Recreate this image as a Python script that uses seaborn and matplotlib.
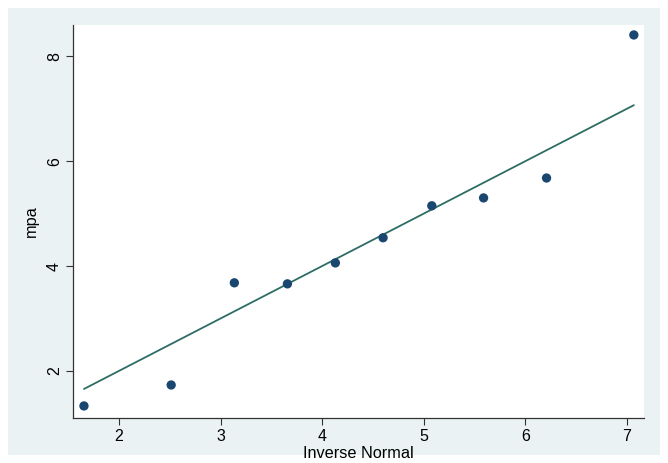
import matplotlib
matplotlib.use('Agg')
import matplotlib.pyplot as plt
import seaborn as sns
import pandas as pd
from matplotlib.patches import Rectangle

inv_normal = [1.654, 2.513, 3.135, 3.658, 4.13, 4.60, 5.08, 5.59, 6.21, 7.07]
mpa = [1.33, 1.73, 3.68, 3.66, 4.06, 4.54, 5.15, 5.30, 5.68, 8.41]

df = pd.DataFrame({'inv': inv_normal, 'mpa': mpa})
ref = pd.DataFrame({'x': [min(inv_normal), max(inv_normal)],
                    'y': [min(inv_normal), max(inv_normal)]})

sns.set_style('white')
plt.rcParams['font.family'] = ['Liberation Sans', 'DejaVu Sans']

fig = plt.figure(figsize=(6.68, 4.63), dpi=100)
fig.patch.set_facecolor('white')
fig.patches.append(Rectangle((8 / 668, 8 / 463), 652 / 668, 447 / 463,
                             transform=fig.transFigure, facecolor='#EAF2F3',
                             edgecolor='none', zorder=-10))
ax = fig.add_axes([73 / 668, 45 / 463, 571 / 668, 393 / 463])
ax.set_facecolor('white')

sns.lineplot(data=ref, x='x', y='y', ax=ax, color='#2D6D63', linewidth=1.3)
sns.scatterplot(data=df, x='inv', y='mpa', ax=ax, color='#1A476F',
                s=45, edgecolor='none', zorder=3)

ax.set_xlim(1.546, 7.17)
ax.set_ylim(1.10, 8.60)
ax.set_xticks([2, 3, 4, 5, 6, 7])
ax.set_yticks([2, 4, 6, 8])
ax.tick_params(axis='both', direction='out', length=5, width=0.8,
               color='#333333', labelcolor='black', labelsize=11.5, pad=3,
               left=True, bottom=True)
for lab in ax.get_yticklabels():
    lab.set_rotation(90)
    lab.set_va('center')

for side in ['top', 'right']:
    ax.spines[side].set_visible(False)
for side in ['left', 'bottom']:
    ax.spines[side].set_color('#333333')
    ax.spines[side].set_linewidth(0.9)

ax.set_xlabel('Inverse Normal', fontsize=11.7, color='black', labelpad=1)
ax.set_ylabel('mpa', fontsize=11.7, color='black', labelpad=6)

fig.savefig('out.png', dpi=100, facecolor=fig.get_facecolor())
